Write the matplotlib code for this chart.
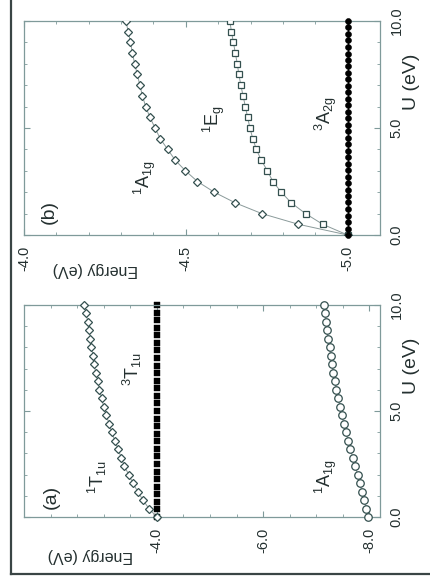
import matplotlib
matplotlib.use("Agg")
import matplotlib.pyplot as plt
from matplotlib.ticker import MultipleLocator, FixedLocator, FormatStrFormatter
from matplotlib.lines import Line2D

plt.rcParams['font.family'] = ['Liberation Sans', 'DejaVu Sans']
plt.rcParams['mathtext.fontset'] = 'custom'
plt.rcParams['mathtext.rm'] = 'Liberation Sans'
plt.rcParams['mathtext.it'] = 'Liberation Sans'

W, H = 431, 584

# ---------------- data ----------------
# panel (a)
U_a = [0.0, 0.4, 0.8, 1.2, 1.6, 2.0, 2.4, 2.8, 3.2, 3.6, 4.0, 4.4, 4.8,
       5.2, 5.6, 6.0, 6.4, 6.8, 7.2, 7.6, 8.0, 8.4, 8.8, 9.2, 9.6, 10.0]
E_1T1u = [-4.00, -3.85, -3.74, -3.64, -3.55, -3.47, -3.39, -3.33, -3.27,
          -3.21, -3.15, -3.10, -3.05, -3.00, -2.96, -2.92, -2.89, -2.85,
          -2.82, -2.80, -2.77, -2.75, -2.73, -2.70, -2.67, -2.63]
E_1A1g_a = [-7.98, -7.94, -7.90, -7.86, -7.82, -7.78, -7.73, -7.69, -7.64,
            -7.60, -7.56, -7.52, -7.48, -7.45, -7.41, -7.38, -7.35, -7.32,
            -7.30, -7.27, -7.25, -7.22, -7.20, -7.18, -7.16, -7.14]
U_3T1u = [0.0, 0.36, 0.71, 1.07, 1.43, 1.79, 2.14, 2.5, 2.86, 3.21, 3.57,
          3.93, 4.29, 4.64, 5.0, 5.36, 5.71, 6.07, 6.43, 6.79, 7.14, 7.5,
          7.86, 8.21, 8.57, 8.93, 9.29, 9.64, 10.0]
E_3T1u = [-4.0] * len(U_3T1u)

# panel (b)
U_b = [0.0, 0.5, 1.0, 1.5, 2.0, 2.5, 3.0, 3.5, 4.0, 4.5, 5.0,
       5.5, 6.0, 6.5, 7.0, 7.5, 8.0, 8.5, 9.0, 9.5, 10.0]
E_1A1g_b = [-5.00, -4.848, -4.735, -4.653, -4.588, -4.536, -4.499, -4.467,
            -4.444, -4.421, -4.405, -4.389, -4.376, -4.366, -4.358, -4.350,
            -4.342, -4.335, -4.329, -4.322, -4.315]
E_1Eg = [-5.00, -4.923, -4.870, -4.826, -4.795, -4.769, -4.752, -4.733,
         -4.718, -4.707, -4.698, -4.691, -4.684, -4.677, -4.670, -4.664,
         -4.659, -4.653, -4.647, -4.641, -4.636]
U_3A2g = [0.0, 0.30, 0.61, 0.91, 1.21, 1.52, 1.82, 2.12, 2.42, 2.73, 3.03,
          3.33, 3.64, 3.94, 4.24, 4.55, 4.85, 5.15, 5.45, 5.76, 6.06, 6.36,
          6.67, 6.97, 7.27, 7.58, 7.88, 8.18, 8.48, 8.79, 9.09, 9.39, 9.70, 10.0]
E_3A2g = [-5.0] * len(U_3A2g)

E_ticks_a = [-4.0, -6.0, -8.0]
E_ticks_b = [-4.0, -4.5, -5.0]
U_ticks = [0.0, 5.0, 10.0]

# ---------------- style ----------------
EDGE = '#34504f'
LINE = '#8a9a9a'
SPINE = '#7f9a9a'
TXT = '#243030'

fig = plt.figure(figsize=(W / 100, H / 100), dpi=100)

def px(x, y):
    return x / W, 1 - y / H

def make_axes(top, bottom):
    l, r = 24, 380
    ax = fig.add_axes([l / W, 1 - bottom / H, (r - l) / W, (bottom - top) / H])
    for s in ax.spines.values():
        s.set_color(SPINE)
        s.set_linewidth(0.9)
    ax.yaxis.tick_right()
    ax.tick_params(which='both', direction='in', top=True, bottom=True,
                   left=True, right=True, colors=SPINE, labelcolor=TXT,
                   labelsize=10.5)
    ax.tick_params(which='major', length=4)
    ax.tick_params(which='minor', length=2)
    ax.set_ylim(0, 10)
    ax.yaxis.set_major_locator(FixedLocator(U_ticks))
    ax.yaxis.set_minor_locator(MultipleLocator(1.0))
    ax.yaxis.set_major_formatter(FormatStrFormatter('%.1f'))
    ax.xaxis.set_major_formatter(FormatStrFormatter('%.1f'))
    return ax

def finish_labels(ax):
    for lbl in ax.get_xticklabels():
        lbl.set_rotation(90)
        lbl.set_ha('center')
        lbl.set_va('top')
    for lbl in ax.get_yticklabels():
        lbl.set_rotation(90)
        lbl.set_ha('left')
        lbl.set_va('center')
    ax.tick_params(axis='x', pad=8)
    ax.tick_params(axis='y', pad=7)

# ---------------- panel (b) (top) ----------------
axb = make_axes(21, 235)
axb.set_xlim(-4.0, -5.1)
axb.xaxis.set_major_locator(FixedLocator(E_ticks_b))
axb.xaxis.set_minor_locator(MultipleLocator(0.1))
axb.plot(E_1A1g_b, U_b, '-', color=LINE, lw=0.7, marker='D', ms=4.4,
         mfc='white', mec=EDGE, mew=0.9, zorder=3)
axb.plot(E_1Eg, U_b, '-', color=LINE, lw=0.7, marker='s', ms=4.6,
         mfc='white', mec=EDGE, mew=0.9, zorder=3)
axb.plot(E_3A2g, U_3A2g, '-', color='black', lw=0.7, marker='o', ms=4.3,
         mfc='black', mec='black', mew=0.4, zorder=4, clip_on=False)
finish_labels(axb)

# ---------------- panel (a) (bottom) ----------------
axa = make_axes(305, 517)
axa.set_xlim(-1.5, -8.2)
axa.xaxis.set_major_locator(FixedLocator(E_ticks_a))
axa.xaxis.set_minor_locator(MultipleLocator(0.5))
axa.plot(E_1T1u, U_a, '-', color=LINE, lw=0.7, marker='D', ms=4.4,
         mfc='white', mec=EDGE, mew=0.9, zorder=3, clip_on=False)
axa.plot(E_3T1u, U_3T1u, 'none', marker='s', ms=4.0,
         mfc='black', mec='black', mew=0.3, zorder=2, clip_on=False)
axa.plot(E_1A1g_a, U_a, '-', color=LINE, lw=0.7, marker='o', ms=5.4,
         mfc='white', mec=EDGE, mew=0.9, zorder=3, clip_on=False)
finish_labels(axa)

# ---------------- texts ----------------
def t(x, y, s, rot=90, size=9.5, **kw):
    fig.text(*px(x, y), s, rotation=rot, ha='center', va='center',
             fontsize=size, color=TXT, **kw)

# axis labels
t(95, 270, 'Energy (eV)', rot=180, size=11.5)
t(90, 555, 'Energy (eV)', rot=180, size=11.5)
t(412, 82, 'U (eV)', rot=90, size=14)
t(412, 366, 'U (eV)', rot=90, size=14)

# panel labels
t(49, 212, '(b)', size=14)
t(51, 497, '(a)', size=14)

# state labels
t(145, 177, r'$^{1}$A$_{1g}$', size=13)
t(214, 119, r'$^{1}$E$_{g}$', size=13)
t(326, 113, r'$^{3}$A$_{2g}$', size=13)
t(97, 477, r'$^{1}$T$_{1u}$', size=13)
t(132, 369, r'$^{3}$T$_{1u}$', size=13)
t(326, 476, r'$^{1}$A$_{1g}$', size=13)

# scanned page frame
fig.add_artist(Line2D([11 / W, 11 / W], [1.0, 1 - 574 / H],
                      transform=fig.transFigure, color='#3a4545', lw=1.6))
fig.add_artist(Line2D([11 / W, 1.0], [1 - 574 / H, 1 - 574 / H],
                      transform=fig.transFigure, color='#3a4545', lw=1.6))

fig.savefig('out.png', dpi=100)
